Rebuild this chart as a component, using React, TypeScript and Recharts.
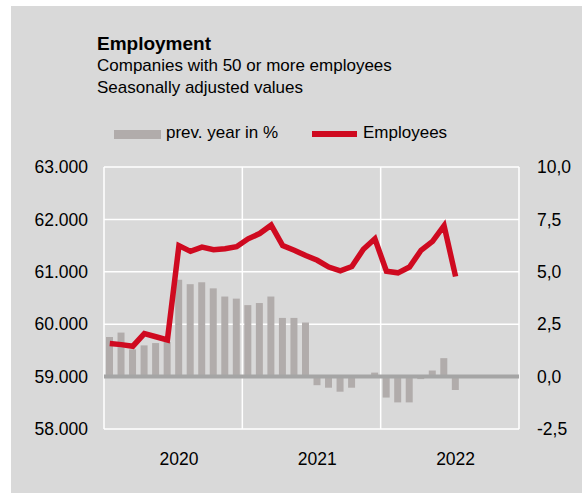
import {
  ComposedChart,
  Bar,
  Line,
  XAxis,
  YAxis,
  CartesianGrid,
  ReferenceLine,
} from 'recharts';

const FONT = '"Liberation Sans", Arial, sans-serif';
const RED = '#cf0a20';
const BAR_GREY = '#b1acab';
const PANEL = '#d9d9d9';

const years = ['2020', '2021', '2022'];
const monthNames = ['Jan', 'Feb', 'Mar', 'Apr', 'May', 'Jun', 'Jul', 'Aug', 'Sep', 'Oct', 'Nov', 'Dec'];

// employees (persons), seasonally adjusted
const employees = [
  59630, 59610, 59580, 59820, 59760, 59700, 61500, 61390, 61470, 61420, 61440, 61480,
  61630, 61730, 61890, 61500, 61410, 61310, 61220, 61090, 61020, 61100, 61430, 61630,
  61010, 60980, 61090, 61410, 61580, 61880, 60910, null, null, null, null, null,
];

// change vs. previous year in %
const prevYear = [
  1.89, 2.1, 1.3, 1.49, 1.6, 1.65, 4.62, 4.41, 4.5, 4.21, 3.82, 3.72,
  3.41, 3.51, 3.82, 2.8, 2.8, 2.58, -0.41, -0.53, -0.72, -0.53, 0, 0.19,
  -1.0, -1.23, -1.23, -0.12, 0.29, 0.88, -0.64, null, null, null, null, null,
];

const leftTicks = [58000, 59000, 60000, 61000, 62000, 63000];
const rightTicks = [-2.5, 0, 2.5, 5, 7.5, 10];
// year labels sit under July of each year
const yearTicks = years.map((y) => `Jul ${y}`);
const yearEdges = [0, 12, 24, 36];
const MONTHS = 36;

const data = years.flatMap((y, yi) =>
  monthNames.map((m, mi) => ({
    month: `${m} ${y}`,
    employees: employees[yi * 12 + mi],
    prevYear: prevYear[yi * 12 + mi],
  }))
);

const tickStyle = { fill: '#000', fontSize: 17.5, fontFamily: FONT };

export default function App() {
  return (
    <div style={{ position: 'absolute', left: 0, top: 0, width: 582, height: 493, background: '#fff', fontFamily: FONT }}>
      <div style={{ position: 'absolute', left: 11, top: 6, width: 571, height: 487, background: PANEL }}>
        <ComposedChart
          width={571}
          height={487}
          data={data}
          margin={{ top: 161, right: 0, left: 0, bottom: 0 }}
        >
          <CartesianGrid
            yAxisId="left"
            stroke="#fff"
            strokeWidth={1.5}
            verticalCoordinatesGenerator={({ offset }: any) =>
              yearEdges.map((v) => offset.left + (offset.width * v) / MONTHS)
            }
          />
          <XAxis
            dataKey="month"
            ticks={yearTicks}
            interval={0}
            tickFormatter={(v: string) => v.slice(4)}
            axisLine={false}
            tickLine={false}
            tickMargin={18}
            height={64}
            tick={tickStyle}
          />
          <YAxis
            yAxisId="left"
            domain={[58000, 63000]}
            ticks={leftTicks}
            tickFormatter={(v: number) => (v / 1000).toFixed(3)}
            axisLine={false}
            tickLine={false}
            tickMargin={10}
            width={93}
            tick={tickStyle}
          />
          <YAxis
            yAxisId="right"
            orientation="right"
            domain={[-2.5, 10]}
            ticks={rightTicks}
            tickFormatter={(v: number) => v.toFixed(1).replace('.', ',')}
            axisLine={false}
            tickLine={false}
            tickMargin={12}
            width={63}
            tick={{ ...tickStyle, textAnchor: 'start' }}
          />
          <Bar
            yAxisId="right"
            dataKey="prevYear"
            fill={BAR_GREY}
            barSize={7}
            isAnimationActive={false}
          />
          <ReferenceLine yAxisId="right" y={0} stroke="#a5a5a5" strokeWidth={4} />
          <Line
            yAxisId="left"
            dataKey="employees"
            type="linear"
            stroke={RED}
            strokeWidth={5.5}
            strokeLinejoin="miter"
            dot={false}
            activeDot={false}
            connectNulls={false}
            isAnimationActive={false}
          />
        </ComposedChart>
      </div>

      <div style={{ position: 'absolute', left: 97, top: 34, fontSize: 19, lineHeight: '19px', fontWeight: 'bold', color: '#000', whiteSpace: 'nowrap' }}>
        Employment
      </div>
      <div style={{ position: 'absolute', left: 97, top: 57, fontSize: 17, lineHeight: '17px', color: '#000', whiteSpace: 'nowrap' }}>
        Companies with 50 or more employees
      </div>
      <div style={{ position: 'absolute', left: 97, top: 79, fontSize: 17, lineHeight: '17px', color: '#000', whiteSpace: 'nowrap' }}>
        Seasonally adjusted values
      </div>

      <div style={{ position: 'absolute', left: 114, top: 130, width: 47, height: 9, background: BAR_GREY }} />
      <div style={{ position: 'absolute', left: 166, top: 124, fontSize: 17, lineHeight: '17px', color: '#000', whiteSpace: 'nowrap' }}>
        prev. year in %
      </div>
      <div style={{ position: 'absolute', left: 312, top: 131, width: 45, height: 6, background: RED }} />
      <div style={{ position: 'absolute', left: 363, top: 124, fontSize: 17, lineHeight: '17px', color: '#000', whiteSpace: 'nowrap' }}>
        Employees
      </div>
    </div>
  );
}
